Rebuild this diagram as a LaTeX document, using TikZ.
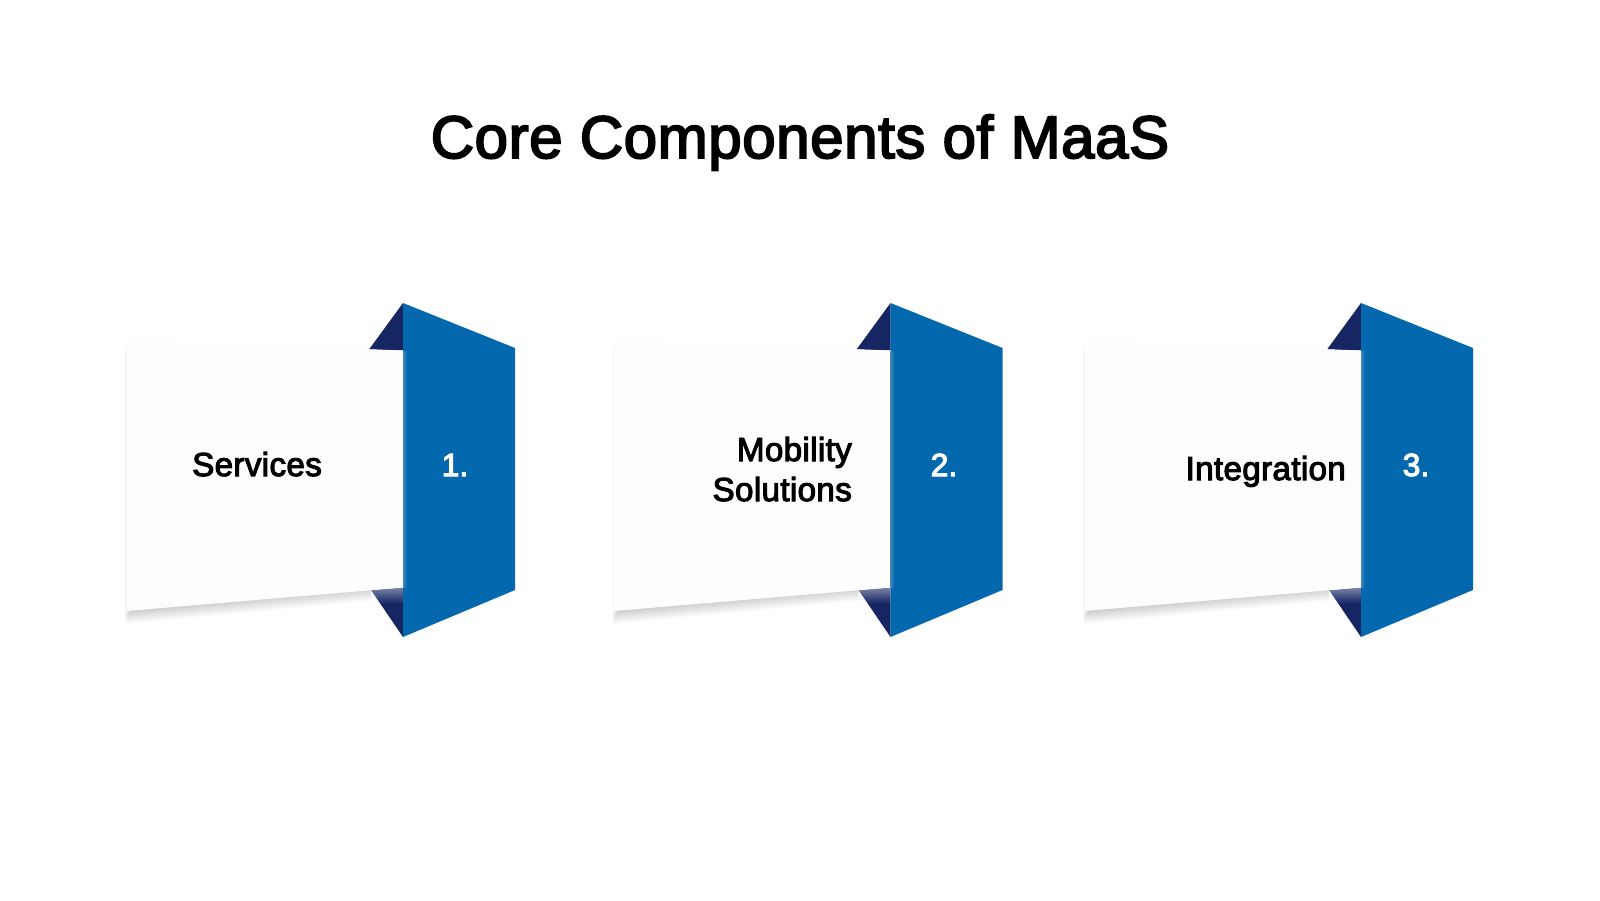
\documentclass[tikz,border=0pt]{standalone}
\usepackage{fontspec}
\setmainfont{Liberation Sans}
\newfontfamily\medfont[FakeBold=3.2,LetterSpace=1.0]{Liberation Sans}
\newfontfamily\numfont[FakeBold=3.2]{Liberation Sans}
\usetikzlibrary{calc}
\definecolor{panelblue}{HTML}{0468AE}
\definecolor{foldnavy}{HTML}{162663}
\definecolor{cardwhite}{HTML}{FDFDFD}
\definecolor{foldlight}{HTML}{7A83A8}
\definecolor{edgeblue}{HTML}{3B86BC}
\pgfdeclareverticalshading{foldshade}{100bp}{color(0bp)=(foldnavy); color(59bp)=(foldnavy); color(75bp)=(foldlight); color(100bp)=(foldlight)}
\tikzset{
  panel/.style={fill=panelblue,draw=none},
  fold/.style={fill=foldnavy,draw=none},
  card/.style={fill=cardwhite,draw=none},
  titletext/.style={font=\fontsize{60}{72}\selectfont\medfont,text=black,inner sep=0pt},
  cardtext/.style={font=\fontsize{33.2}{41}\selectfont\medfont,text=black,inner sep=0pt},
  numtext/.style={font=\fontsize{32}{41}\selectfont\numfont,text=white,inner sep=0pt},
}
\begin{document}
\begin{tikzpicture}[x=1pt,y=-1pt]
\useasboundingbox (0,0) rectangle (1600,900);
\fill[white] (0,0) rectangle (1600,900);
\node[titletext,anchor=base] (title) at (800,158) {Core Components of MaaS};
\foreach \dx/\nm in {0/a,487.5/b,958/c}{
\begin{scope}[xshift=\dx pt]
  % soft shadow beneath and left of the card
  \foreach \s in {1,...,20}{
    \fill[black,opacity=0.014] (134-0.45*\s,372-1.2*\s) -- (134-0.45*\s,602+1.1*\s) -- (371,579+1.1*\s) -- (371,400) -- cycle;
  }
  \fill[fold] (369,349.5) -- (403,303) -- (403,350.5) -- cycle;
  \shade[shading=foldshade] (371,590) -- (403,637) -- (403,587.5) -- cycle;
  \fill[card] (126.5,340) -- (403,350.5) -- (403,587.5) -- (126.5,611) -- cycle;
  \fill[panel] (403,303) -- (515,348) -- (515,590) -- (403,637) -- cycle;
  \shade[left color=edgeblue,right color=panelblue] (403,351) rectangle (407,587);
\end{scope}
}
\node[cardtext,anchor=base west] (t1) at (192,476) {Services};
\node[numtext,anchor=base] (n1) at (455,476) {1.};
\node[cardtext,anchor=base east,align=right] (t2a) at (852,461) {Mobility};
\node[cardtext,anchor=base east,align=right] (t2b) at (852,501) {Solutions};
\node[numtext,anchor=base] (n2) at (944,476) {2.};
\node[cardtext,anchor=base east] (t3) at (1346,480) {Integration};
\node[numtext,anchor=base] (n3) at (1416,476) {3.};
\end{tikzpicture}
\end{document}
